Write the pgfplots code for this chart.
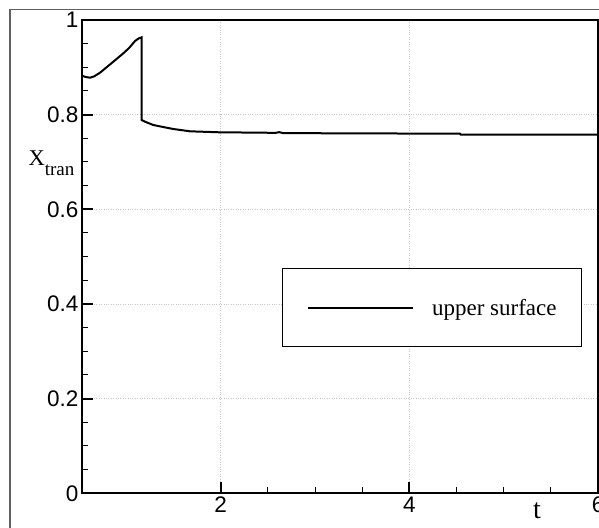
\documentclass[border=0pt]{standalone}
\usepackage{pgfplots}
\pgfplotsset{compat=1.18}
\usepackage{fontspec}
\setmainfont{Liberation Serif}
\newfontfamily\ticksans{Liberation Sans}

% transition location history, upper surface
\pgfplotstableread{
t      xtr
0.530  0.8823
0.570  0.8795
0.615  0.8781
0.660  0.8810
0.721  0.8887
0.790  0.9000
0.862  0.9119
0.968  0.9296
1.030  0.9410
1.092  0.9556
1.130  0.9610
1.163  0.9634
1.163  0.7887
1.200  0.7850
1.286  0.7781
1.400  0.7735
1.498  0.7697
1.675  0.7648
1.993  0.7627
2.449  0.7619
2.580  0.7615
2.620  0.7630
2.660  0.7612
3.159  0.7606
4.537  0.7598
4.545  0.7577
6.000  0.7577
}\upper

\begin{document}
\begin{tikzpicture}
\useasboundingbox (0pt,0pt) rectangle (599pt,527pt);
% outer frame
\draw[gray!75!black, line width=1.3pt] (10pt,-40pt) -- (10pt,517.5pt) -- (660pt,517.5pt);
\begin{axis}[
  at={(82pt,33.7pt)}, anchor=south west,
  scale only axis, width=516pt, height=473.3pt,
  xmin=0.53, xmax=6, ymin=0, ymax=1,
  xtick={2,4,6}, ytick={0,0.2,0.4,0.6,0.8,1},
  minor x tick num=3, minor y tick num=3,
  tick align=inside, xtick pos=bottom, ytick pos=left,
  major tick length=11pt, minor tick length=6pt,
  major tick style={line width=1.8pt, black},
  minor tick style={line width=1pt, black},
  axis line style={line width=2pt},
  grid=major, major grid style={dotted, gray!45, line width=0.6pt},
  /pgf/number format/assume math mode=true,
  tick label style={font=\ticksans\fontsize{22.5}{23}\selectfont, text=black},
  every axis x label/.style={at={(axis description cs:0.882,-0.0528)}, anchor=base},
  every axis y label/.style={at={(axis description cs:-0.1105,0.6922)}, anchor=base west},
  xlabel={\fontsize{28}{28}\selectfont t},
  ylabel={{\fontsize{22.5}{22.5}\selectfont X}{\fontsize{19}{19}\selectfont\raisebox{-10pt}{tran}}},
  legend image code/.code={\draw[#1] (0pt,0pt) -- (105pt,0pt);},
  legend style={at={(0.387,0.475)}, anchor=north west, draw=black, line width=0.8pt,
    inner xsep=25pt, inner ysep=30pt,
    nodes={inner sep=0pt, font=\fontsize{23}{23}\selectfont},
    /tikz/every odd column/.append style={column sep=18pt}},
]
\addplot[black, line width=2pt] table[x=t, y=xtr] {\upper};
\addlegendentry{upper surface}
\end{axis}
\end{tikzpicture}
\end{document}
